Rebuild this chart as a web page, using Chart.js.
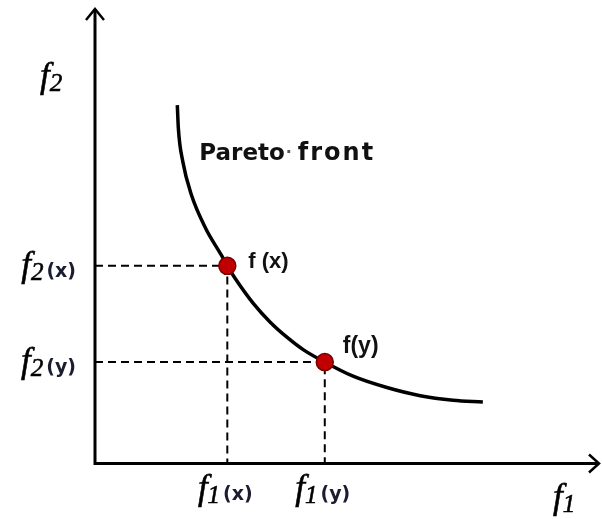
<!DOCTYPE html>
<html>
<head>
<meta charset="utf-8">
<script src="https://cdn.jsdelivr.net/npm/chart.js@4.4.1/dist/chart.umd.min.js"></script>
<style>
  html, body { margin: 0; padding: 0; background: #ffffff; }
  #wrap { width: 602px; height: 519px; position: relative; }
</style>
</head>
<body>
<div id="wrap"><canvas id="c" width="602" height="519"></canvas></div>
<script>
// Pareto front curve (f1, f2)
const frontF1 = [1.63, 1.65, 1.74, 1.91, 2.19, 2.50, 2.62, 2.76, 3.13, 3.47, 3.80, 4.13, 4.55, 5.11, 5.78, 6.44, 7.09, 7.68];
const frontF2 = [7.86, 7.36, 6.61, 5.88, 5.15, 4.56, 4.32, 4.07, 3.50, 3.08, 2.75, 2.47, 2.20, 1.89, 1.64, 1.46, 1.36, 1.32];
// Highlighted solutions
const solutionNames = ["x", "y"];
const solutionF1 = [2.62, 4.55];
const solutionF2 = [4.32, 2.20];
// Axis titles
const axisTitleX = { main: "f", sub: "1" };
const axisTitleY = { main: "f", sub: "2" };
const curveLabel = ["Pareto", "\u00B7", "front"];
const axisMax = 10;

const curveData = frontF1.map((v, i) => ({ x: v, y: frontF2[i] }));
const dotData = solutionF1.map((v, i) => ({ x: v, y: solutionF2[i] }));
const dashSets = solutionF1.map((v, i) => ({
  data: [{ x: 0, y: solutionF2[i] }, { x: v, y: solutionF2[i] }, { x: v, y: 0 }],
  showLine: true, borderColor: "#000", borderWidth: 2, borderDash: [8, 5],
  pointRadius: 0, tension: 0, order: 3, clip: false
}));

const SERIF = "'Liberation Serif', 'DejaVu Serif', serif";
const SANS = "'Liberation Sans', Arial, sans-serif";
const DV = "'DejaVu Sans', sans-serif";

function drawFLabel(ctx, x, baseline, sub, paren, align) {
  const fFont = "italic 35px " + SERIF;
  const sFont = "italic 25px " + SERIF;
  const pFont = "bold 19px " + DV;
  ctx.font = fFont; const wf = ctx.measureText("f").width;
  ctx.font = sFont; const ws = ctx.measureText(sub).width;
  let wp = 0;
  if (paren) { ctx.font = pFont; wp = ctx.measureText(paren).width + 3; }
  const total = wf + ws + wp;
  let x0 = x;
  if (align === "right") x0 = x - total;
  else if (align === "center") x0 = x - total / 2;
  ctx.textAlign = "left";
  ctx.textBaseline = "alphabetic";
  ctx.fillStyle = "#000";
  ctx.strokeStyle = "#000";
  ctx.lineWidth = 0.6;
  ctx.font = fFont; ctx.fillText("f", x0, baseline); ctx.strokeText("f", x0, baseline);
  ctx.font = sFont; ctx.fillText(sub, x0 + wf, baseline + 4); ctx.strokeText(sub, x0 + wf, baseline + 4);
  if (paren) {
    ctx.fillStyle = "#1c1c30";
    ctx.font = pFont; ctx.fillText(paren, x0 + wf + ws + 3, baseline + 1);
  }
}

const axesPlugin = {
  id: "axesPlugin",
  beforeDatasetsDraw(chart) {
    const { ctx, scales: { x, y } } = chart;
    const x0 = x.getPixelForValue(0), y0 = y.getPixelForValue(0);
    const xEnd = x.getPixelForValue(axisMax), yEnd = y.getPixelForValue(axisMax);
    ctx.save();
    ctx.strokeStyle = "#000";
    ctx.lineWidth = 3;
    ctx.lineCap = "butt";
    ctx.beginPath();
    ctx.moveTo(x0, yEnd + 1); ctx.lineTo(x0, y0 + 1.5);
    ctx.lineTo(xEnd - 1, y0 + 1.5);
    ctx.stroke();
    ctx.lineWidth = 2.5;
    ctx.lineJoin = "miter";
    ctx.beginPath();
    ctx.moveTo(x0 - 9, yEnd + 12); ctx.lineTo(x0, yEnd + 1); ctx.lineTo(x0 + 9, yEnd + 12);
    ctx.stroke();
    ctx.beginPath();
    ctx.moveTo(xEnd - 11, y0 + 1.5 - 9); ctx.lineTo(xEnd - 1, y0 + 1.5); ctx.lineTo(xEnd - 11, y0 + 1.5 + 9);
    ctx.stroke();
    ctx.restore();
  },
  afterDraw(chart) {
    const { ctx, scales: { x, y } } = chart;
    const x0 = x.getPixelForValue(0), y0 = y.getPixelForValue(0);
    ctx.save();
    drawFLabel(ctx, x0 - 55, y.getPixelForValue(axisMax) + 79, axisTitleY.sub, null, "left");
    drawFLabel(ctx, x.getPixelForValue(axisMax) - 47, y0 + 46, axisTitleX.sub, null, "left");
    solutionNames.forEach((n, i) => {
      const px = x.getPixelForValue(solutionF1[i]);
      const py = y.getPixelForValue(solutionF2[i]);
      drawFLabel(ctx, x0 - 19, py + 10, axisTitleY.sub, "(" + n + ")", "right");
      drawFLabel(ctx, px - 2, y0 + 37, axisTitleX.sub, "(" + n + ")", "center");
      ctx.fillStyle = "#111";
      ctx.textAlign = "left";
      ctx.textBaseline = "alphabetic";
      if (i === 0) {
        ctx.font = "bold 22px " + SANS;
        ctx.fillText("f (" + n + ")", px + 21, py + 2);
      } else {
        ctx.font = "bold 23px " + SANS;
        ctx.fillText("f(" + n + ")", px + 18, py - 9);
      }
    });
    // curve label
    const lx = x.getPixelForValue(frontF1[0]) + 22;
    const ly = y.getPixelForValue(frontF2[0]) + 55;
    ctx.fillStyle = "#111";
    ctx.font = "bold 23px " + DV;
    ctx.fillText(curveLabel[0], lx, ly);
    const w0 = ctx.measureText(curveLabel[0]).width;
    ctx.fillStyle = "#555";
    ctx.font = "bold 16px " + DV;
    ctx.fillText(curveLabel[1], lx + w0 + 1, ly - 3);
    ctx.fillStyle = "#111";
    ctx.font = "bold 24px " + DV;
    ctx.letterSpacing = "2px";
    ctx.fillText(curveLabel[2], lx + w0 + 13, ly);
    ctx.letterSpacing = "0px";
    ctx.restore();
  }
};

new Chart(document.getElementById("c"), {
  type: "scatter",
  data: {
    datasets: [
      {
        data: dotData, pointRadius: 8.5, pointHoverRadius: 8.5,
        backgroundColor: "#c00000", borderColor: "#7a0000", borderWidth: 1.5,
        showLine: false, order: 0, clip: false
      },
      {
        data: curveData, showLine: true, borderColor: "#000", borderWidth: 3.5,
        pointRadius: 0, cubicInterpolationMode: "monotone", order: 1, clip: false
      },
      ...dashSets
    ]
  },
  options: {
    responsive: false,
    animation: false,
    events: [],
    layout: { autoPadding: false, padding: { left: 95, right: 2, top: 8, bottom: 57 } },
    plugins: { legend: { display: false }, tooltip: { enabled: false } },
    scales: {
      x: { type: "linear", min: 0, max: axisMax, display: false },
      y: { type: "linear", min: 0, max: axisMax, display: false }
    }
  },
  plugins: [axesPlugin]
});
</script>
</body>
</html>
